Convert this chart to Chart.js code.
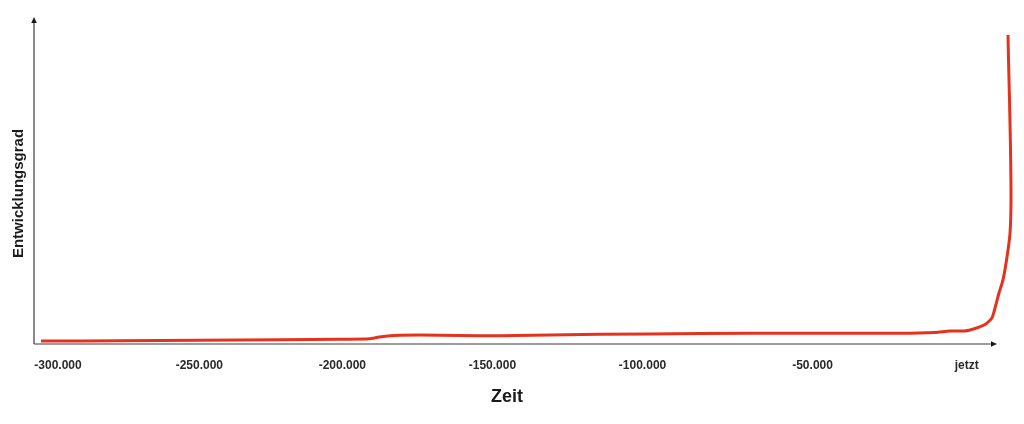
<!DOCTYPE html>
<html>
<head>
<meta charset="utf-8">
<script src="https://cdn.jsdelivr.net/npm/chart.js@4"></script>
<style>
  html, body { margin: 0; padding: 0; background: #fff; }
  #wrap { width: 1024px; height: 424px; position: relative; }
</style>
</head>
<body>
<div id="wrap"><canvas id="c"></canvas></div>
<script>
// Time positions (years, as placed on the drawn axis) and development degree (0-100)
const timeValues = [-305990, -278520, -250350, -222180, -201060, -190490, -186970, -181690, -172890, -158800,
  -144720, -109510, -74300, -39080, -3870, 8450, 13730, 19010, 22540, 26060,
  28520, 29580, 30990, 32390, 33800, 34860, 35210, 35040, 34680, 34330, 34150];
const degreeValues = [0.9, 1.0, 1.15, 1.3, 1.45, 1.6, 2.15, 2.6, 2.75, 2.6,
  2.55, 2.95, 3.2, 3.3, 3.25, 3.5, 4.0, 4.0, 4.75, 5.95,
  7.95, 11.0, 15.6, 19.6, 26.6, 33.9, 44, 59.3, 74.6, 86.9, 94.5];
const tickPositions = [-300000, -250300, -200000, -147200, -94400, -34600, 19600];
const tickLabels = ['-300.000', '-250.000', '-200.000', '-150.000', '-100.000', '-50.000', 'jetzt'];
const xAxisArrowEnd = 30280;
const xTitle = 'Zeit';
const yTitle = 'Entwicklungsgrad';

const points = timeValues.map((x, i) => ({ x: x, y: degreeValues[i] }));

const axesPlugin = {
  id: 'arrowAxes',
  beforeDatasetsDraw(chart) {
    const { ctx, chartArea, scales } = chart;
    const left = chartArea.left, top = chartArea.top, bottom = chartArea.bottom;
    const xEnd = scales.x.getPixelForValue(xAxisArrowEnd);
    ctx.save();
    ctx.strokeStyle = '#3a3a3a';
    ctx.fillStyle = '#1a1a1a';
    ctx.lineWidth = 1.2;
    // y axis
    ctx.beginPath();
    ctx.moveTo(left, bottom);
    ctx.lineTo(left, top + 4);
    ctx.stroke();
    ctx.beginPath();
    ctx.moveTo(left, top);
    ctx.lineTo(left - 2.8, top + 6);
    ctx.lineTo(left + 2.8, top + 6);
    ctx.closePath();
    ctx.fill();
    // x axis
    ctx.beginPath();
    ctx.moveTo(left, bottom);
    ctx.lineTo(xEnd - 4, bottom);
    ctx.stroke();
    ctx.beginPath();
    ctx.moveTo(xEnd, bottom);
    ctx.lineTo(xEnd - 6, bottom - 2.8);
    ctx.lineTo(xEnd - 6, bottom + 2.8);
    ctx.closePath();
    ctx.fill();
    ctx.restore();
  },
  afterDraw(chart) {
    const { ctx, chartArea } = chart;
    ctx.save();
    ctx.translate(chartArea.left - 15, (chartArea.top + chartArea.bottom) / 2 + 13);
    ctx.rotate(-Math.PI / 2);
    ctx.font = 'bold 15px "Liberation Sans", Arial, sans-serif';
    ctx.fillStyle = '#1a1a1a';
    ctx.textAlign = 'center';
    ctx.textBaseline = 'middle';
    ctx.fillText(yTitle, 0, 0);
    ctx.restore();
  }
};

new Chart(document.getElementById('c'), {
  type: 'line',
  data: {
    datasets: [{
      data: points,
      borderColor: '#e5321f',
      borderWidth: 3,
      pointRadius: 0,
      tension: 0.2,
      fill: false,
      clip: false
    }]
  },
  options: {
    responsive: true,
    maintainAspectRatio: false,
    animation: false,
    layout: { padding: { left: 34, top: 17, right: 44, bottom: 16 } },
    plugins: { legend: { display: false }, tooltip: { enabled: false } },
    scales: {
      x: {
        type: 'linear',
        min: -308450,
        max: 24300,
        grid: { display: false },
        border: { display: false },
        afterBuildTicks(scale) {
          scale.ticks = tickPositions.map(v => ({ value: v }));
        },
        ticks: {
          autoSkip: false,
          maxRotation: 0,
          padding: 6,
          color: '#2a2a2a',
          font: { family: '"Liberation Sans", Arial, sans-serif', size: 12, weight: 'bold' },
          callback: (value, index) => tickLabels[index]
        },
        title: {
          display: true,
          text: xTitle,
          color: '#1a1a1a',
          padding: { top: 8, bottom: 0 },
          font: { family: '"Liberation Sans", Arial, sans-serif', size: 18, weight: 'bold' }
        }
      },
      y: {
        display: false,
        min: 0,
        max: 100
      }
    }
  },
  plugins: [axesPlugin]
});
</script>
</body>
</html>
